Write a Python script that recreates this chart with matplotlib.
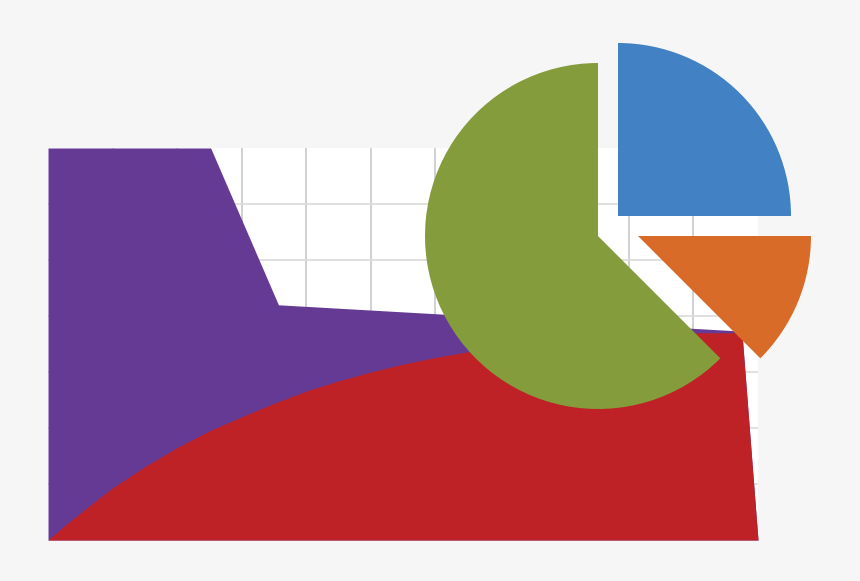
import matplotlib.pyplot as plt

# area chart data (x in grid columns, y in grid rows)
purple_x = [0, 2.52, 3.57, 10.75, 11.0]
purple_y = [7.0, 7.0, 4.2, 3.73, 0.0]

red_x = [0, 0.25, 0.5, 0.75, 1, 1.5, 2, 2.5, 3, 3.5, 4, 4.5, 5, 5.5, 6,
         6.5, 7, 8, 9, 10, 10.75, 11.0]
red_y = [0, 0.25, 0.48, 0.71, 0.93, 1.31, 1.65, 1.95, 2.2, 2.44, 2.66,
         2.84, 3.0, 3.14, 3.26, 3.36, 3.45, 3.58, 3.66, 3.7, 3.7, 0.0]

# pie data (percent), starting at 0 deg, counter-clockwise
pie_labels = ["blue", "green", "orange"]
pie_values = [25, 62.5, 12.5]
pie_colors = ["#4281c3", "#859c3c", "#d86b28"]
pie_offsets = [(0.1156, 0.1156), (0, 0), (0.2312, 0)]

fig = plt.figure(figsize=(8.6, 5.81), dpi=100, facecolor="#f6f6f6")

# Area chart
ax = fig.add_axes([48 / 860, 41 / 581, 710 / 860, 392 / 581])
ax.set_facecolor("white")
ax.set_xlim(0, 11)
ax.set_ylim(0, 7)
ax.set_xticks(range(1, 11))
ax.set_yticks(range(1, 7))
ax.grid(True, axis="x", color="#c9c9c9", linewidth=1.2)
ax.grid(True, axis="y", color="#dadada", linewidth=1.2)
ax.set_axisbelow(True)
ax.tick_params(length=0, labelbottom=False, labelleft=False)
for s in ax.spines.values():
    s.set_visible(False)

ax.fill_between(purple_x, purple_y, color="#653a94", linewidth=0)
ax.fill_between(red_x, red_y, color="#be2227", linewidth=0)

# Pie chart overlay
ax2 = fig.add_axes([368 / 860, 115 / 581, 460 / 860, 460 / 581])
wedges, _ = ax2.pie(pie_values, colors=pie_colors, startangle=0,
                    counterclock=True, radius=1,
                    wedgeprops=dict(linewidth=0))
for w, off in zip(wedges, pie_offsets):
    w.set_center(off)
lim = 230 / 173
ax2.set_xlim(-lim, lim)
ax2.set_ylim(-lim, lim)
ax2.axis("off")

fig.savefig("out.png", dpi=100, facecolor=fig.get_facecolor())
